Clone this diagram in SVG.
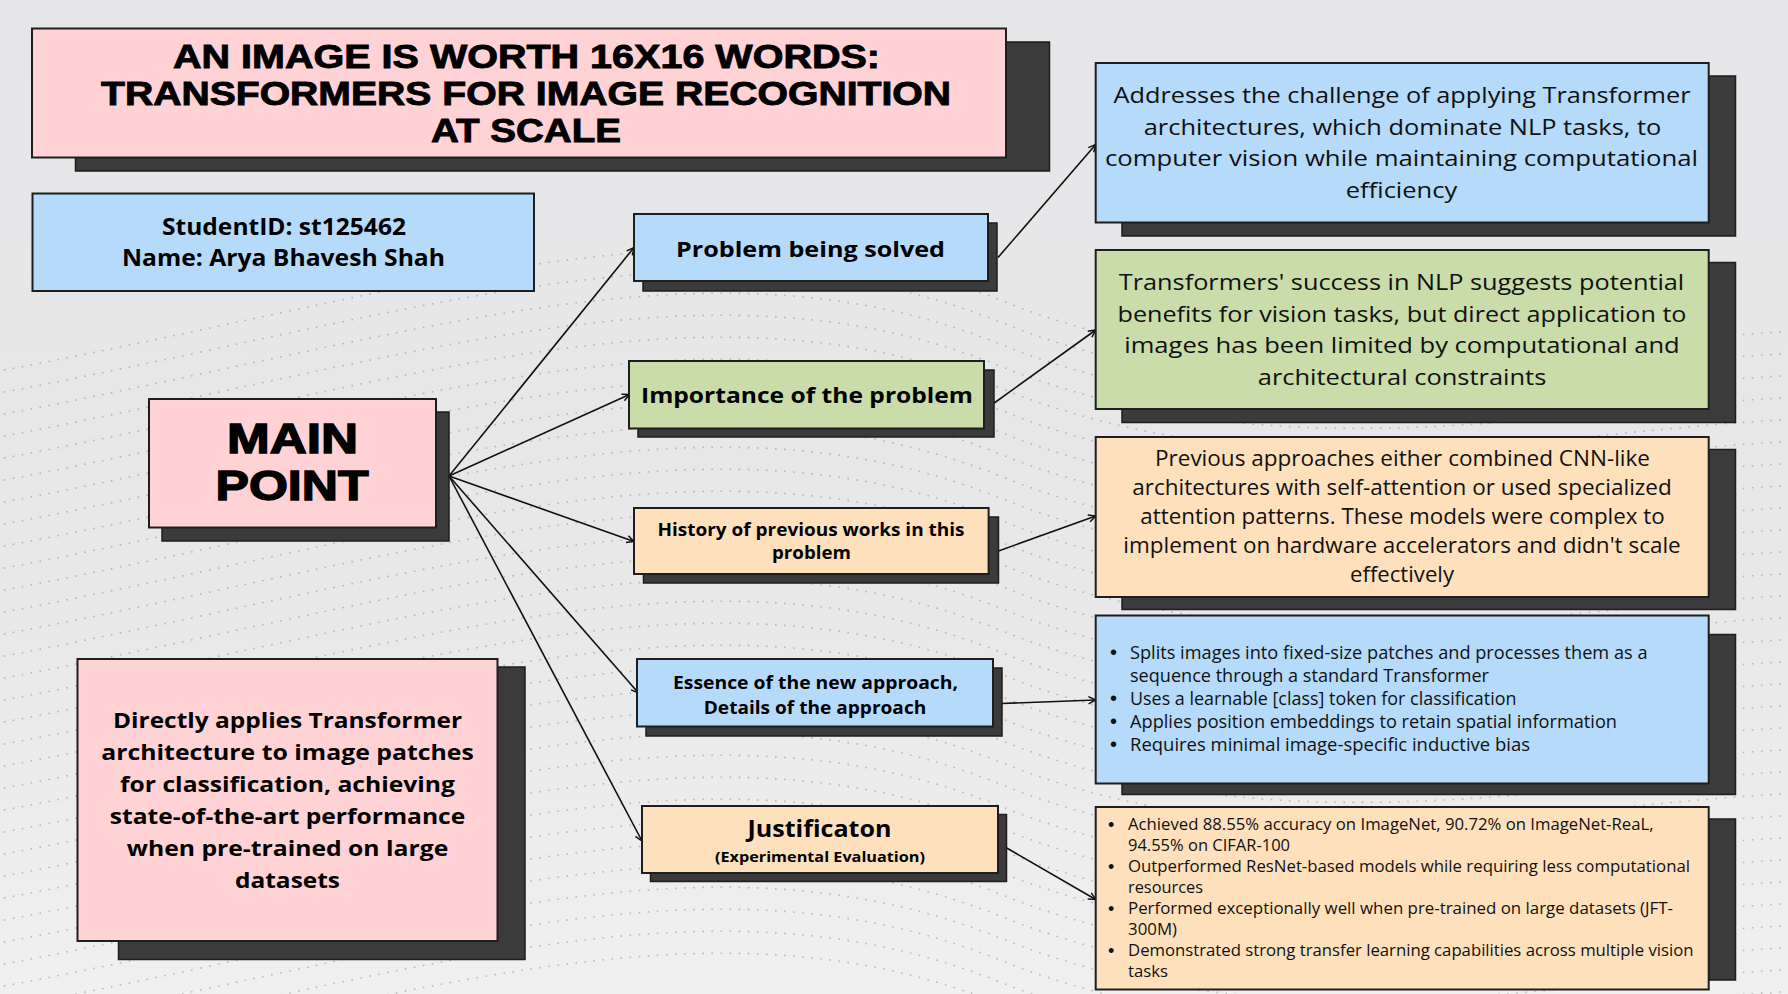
<svg xmlns="http://www.w3.org/2000/svg" width="1788" height="994" viewBox="0 0 1788 994">
<defs>
<linearGradient id="bg" x1="0" y1="0" x2="0" y2="1">
<stop offset="0" stop-color="#e6e6e8"/>
<stop offset="0.6" stop-color="#e8e8e9"/>
<stop offset="1" stop-color="#f0f0f0"/>
</linearGradient>
<marker id="arr" viewBox="0 0 10 10" refX="9" refY="5" markerWidth="9" markerHeight="9" markerUnits="userSpaceOnUse" orient="auto">
<path d="M1,1 L9,5 L1,9" fill="none" stroke="#111" stroke-width="1.6"/>
</marker>
<style>
.pink{fill:#ffd3d6}
.blue{fill:#b5dafa}
.green{fill:#c9dcaa}
.peach{fill:#fee0bc}
.box{stroke:#1e1e1e;stroke-width:2}
.shadow{fill:#3b3b3b;stroke:#1e1e1e;stroke-width:1.5}
.h{font-family:"Open Sans","Liberation Sans",sans-serif;font-weight:700;fill:#000;text-anchor:middle}
.t{font-family:"Liberation Sans","Open Sans",sans-serif;font-weight:700;fill:#000;stroke:#000;stroke-width:0.9;text-anchor:middle}
.tm{font-family:"Liberation Sans","Open Sans",sans-serif;font-weight:700;fill:#000;stroke:#000;stroke-width:1.4;text-anchor:middle}
.b{font-family:"Open Sans","Liberation Sans",sans-serif;font-weight:400;fill:#111;text-anchor:middle}
.l{font-family:"Open Sans","Liberation Sans",sans-serif;font-weight:400;fill:#111;text-anchor:start}
.dot{font-family:"Liberation Sans",sans-serif;fill:#111;text-anchor:start}
.conn{stroke:#111;stroke-width:1.6;fill:none;marker-end:url(#arr)}
.mesh{fill:none;stroke:#7a7a7a;stroke-opacity:0.45;stroke-width:1.6;stroke-dasharray:1.6 7.5}
</style>
</defs>
<rect x="0" y="0" width="1788" height="994" fill="url(#bg)"/>
<g id="mesh">
<path class="mesh" d="M-50,380 C400,300 700,180 1000,300 S1600,330 1850,330"/>
<path class="mesh" d="M-50,402 C400,322 700,202 1000,322 S1600,352 1850,352"/>
<path class="mesh" d="M-50,424 C400,344 700,224 1000,344 S1600,374 1850,374"/>
<path class="mesh" d="M-50,446 C400,366 700,246 1000,366 S1600,396 1850,396"/>
<path class="mesh" d="M-50,468 C400,388 700,268 1000,388 S1600,418 1850,418"/>
<path class="mesh" d="M-50,490 C400,410 700,290 1000,410 S1600,440 1850,440"/>
<path class="mesh" d="M-50,512 C400,432 700,312 1000,432 S1600,462 1850,462"/>
<path class="mesh" d="M-50,534 C400,454 700,334 1000,454 S1600,484 1850,484"/>
<path class="mesh" d="M-50,556 C400,476 700,356 1000,476 S1600,506 1850,506"/>
<path class="mesh" d="M-50,578 C400,498 700,378 1000,498 S1600,528 1850,528"/>
<path class="mesh" d="M-50,600 C400,520 700,400 1000,520 S1600,550 1850,550"/>
<path class="mesh" d="M-50,622 C400,542 700,422 1000,542 S1600,572 1850,572"/>
<path class="mesh" d="M-50,644 C400,564 700,444 1000,564 S1600,594 1850,594"/>
<path class="mesh" d="M-50,666 C400,586 700,466 1000,586 S1600,616 1850,616"/>
<path class="mesh" d="M-50,688 C400,608 700,488 1000,608 S1600,638 1850,638"/>
<path class="mesh" d="M-50,710 C400,630 700,510 1000,630 S1600,660 1850,660"/>
<path class="mesh" d="M-50,732 C400,652 700,532 1000,652 S1600,682 1850,682"/>
<path class="mesh" d="M-50,754 C400,674 700,554 1000,674 S1600,704 1850,704"/>
<path class="mesh" d="M-50,776 C400,696 700,576 1000,696 S1600,726 1850,726"/>
<path class="mesh" d="M-50,798 C400,718 700,598 1000,718 S1600,748 1850,748"/>
<path class="mesh" d="M-50,820 C400,740 700,620 1000,740 S1600,770 1850,770"/>
<path class="mesh" d="M-50,842 C400,762 700,642 1000,762 S1600,792 1850,792"/>
<path class="mesh" d="M-50,864 C400,784 700,664 1000,784 S1600,814 1850,814"/>
<path class="mesh" d="M-50,886 C400,806 700,686 1000,806 S1600,836 1850,836"/>
<path class="mesh" d="M-50,908 C400,828 700,708 1000,828 S1600,858 1850,858"/>
<path class="mesh" d="M-50,930 C400,850 700,730 1000,850 S1600,880 1850,880"/>
<path class="mesh" d="M-50,952 C400,872 700,752 1000,872 S1600,902 1850,902"/>
<path class="mesh" d="M-50,974 C400,894 700,774 1000,894 S1600,924 1850,924"/>
<path class="mesh" d="M-50,996 C400,916 700,796 1000,916 S1600,946 1850,946"/>
<path class="mesh" d="M-50,1018 C400,938 700,818 1000,938 S1600,968 1850,968"/>
<path class="mesh" d="M-50,1040 C400,960 700,840 1000,960 S1600,990 1850,990"/>
<path class="mesh" d="M-50,1062 C400,982 700,862 1000,982 S1600,1012 1850,1012"/>
<path class="mesh" d="M-50,1084 C400,1004 700,884 1000,1004 S1600,1034 1850,1034"/>
</g>

<g id="connectors">
<line class="conn" x1="449" y1="476" x2="634" y2="247.5"/>
<line class="conn" x1="449" y1="476" x2="629.5" y2="394.5"/>
<line class="conn" x1="449" y1="476" x2="634" y2="541.5"/>
<line class="conn" x1="449" y1="476" x2="638.5" y2="693"/>
<line class="conn" x1="449" y1="476" x2="642" y2="841"/>
<line class="conn" x1="998" y1="257.5" x2="1095.7" y2="144.5"/>
<line class="conn" x1="993.5" y1="403.5" x2="1095.7" y2="330"/>
<line class="conn" x1="998.5" y1="551" x2="1095.7" y2="516"/>
<line class="conn" x1="1001.5" y1="703.5" x2="1095.7" y2="700"/>
<line class="conn" x1="1005" y1="847" x2="1095.7" y2="899.5"/>
</g>

<g id="title">
<rect class="shadow" x="75.5" y="42" width="974" height="129"/>
<rect class="box pink" x="32" y="28.5" width="974" height="129"/>
<text class="t" x="526.5" y="68" font-size="33" textLength="707" lengthAdjust="spacingAndGlyphs">AN IMAGE IS WORTH 16X16 WORDS:</text>
<text class="t" x="526" y="105" font-size="33" textLength="850" lengthAdjust="spacingAndGlyphs">TRANSFORMERS FOR IMAGE RECOGNITION</text>
<text class="t" x="526" y="142" font-size="33" textLength="190" lengthAdjust="spacingAndGlyphs">AT SCALE</text>
</g>

<g id="student">
<rect class="box blue" x="32.5" y="193.5" width="501.5" height="97.5"/>
<text class="h" x="284" y="235" font-size="23" textLength="244" lengthAdjust="spacingAndGlyphs">StudentID: st125462</text>
<text class="h" x="283.5" y="266" font-size="23" textLength="323" lengthAdjust="spacingAndGlyphs">Name: Arya Bhavesh Shah</text>
</g>

<g id="main-point">
<rect class="shadow" x="162" y="412" width="287" height="129"/>
<rect class="box pink" x="149" y="399" width="287" height="128.5"/>
<text class="tm" x="292.5" y="453" font-size="42" textLength="131" lengthAdjust="spacingAndGlyphs">MAIN</text>
<text class="tm" x="292" y="500" font-size="42" textLength="153" lengthAdjust="spacingAndGlyphs">POINT</text>
</g>

<g id="summary">
<rect class="shadow" x="118.5" y="667" width="406.5" height="292.5"/>
<rect class="box pink" x="77.5" y="659" width="420" height="282"/>
<text class="h" x="287.5" y="727.5" font-size="22" textLength="349" lengthAdjust="spacingAndGlyphs">Directly applies Transformer</text>
<text class="h" x="287.5" y="759.5" font-size="22" textLength="372.5" lengthAdjust="spacingAndGlyphs">architecture to image patches</text>
<text class="h" x="287.5" y="791.5" font-size="22" textLength="335" lengthAdjust="spacingAndGlyphs">for classification, achieving</text>
<text class="h" x="287.5" y="823.5" font-size="22" textLength="355.5" lengthAdjust="spacingAndGlyphs">state-of-the-art performance</text>
<text class="h" x="287.5" y="855.5" font-size="22" textLength="321.5" lengthAdjust="spacingAndGlyphs">when pre-trained on large</text>
<text class="h" x="287.5" y="887.5" font-size="22" textLength="105" lengthAdjust="spacingAndGlyphs">datasets</text>
</g>

<g id="problem">
<rect class="shadow" x="643" y="223" width="354" height="68"/>
<rect class="box blue" x="634" y="214" width="354" height="67"/>
<text class="h" x="810.5" y="257" font-size="21.5" textLength="269" lengthAdjust="spacingAndGlyphs">Problem being solved</text>
</g>

<g id="importance">
<rect class="shadow" x="638" y="370" width="356" height="67"/>
<rect class="box green" x="629" y="361" width="355" height="67.5"/>
<text class="h" x="807" y="403" font-size="21.5" textLength="332" lengthAdjust="spacingAndGlyphs">Importance of the problem</text>
</g>

<g id="history">
<rect class="shadow" x="643.5" y="517" width="355" height="66"/>
<rect class="box peach" x="634" y="508" width="354.6" height="66"/>
<text class="h" x="811" y="535.5" font-size="17.5" textLength="307" lengthAdjust="spacingAndGlyphs">History of previous works in this</text>
<text class="h" x="811.5" y="559" font-size="17.5" textLength="79" lengthAdjust="spacingAndGlyphs">problem</text>
</g>

<g id="essence">
<rect class="shadow" x="646" y="668" width="356" height="68"/>
<rect class="box blue" x="637" y="659" width="356" height="67.5"/>
<text class="h" x="815.5" y="688.5" font-size="17.5" textLength="285" lengthAdjust="spacingAndGlyphs">Essence of the new approach,</text>
<text class="h" x="815" y="713.5" font-size="17.5" textLength="222.5" lengthAdjust="spacingAndGlyphs">Details of the approach</text>
</g>

<g id="justification">
<rect class="shadow" x="650.5" y="814.5" width="356" height="67"/>
<rect class="box peach" x="642" y="806" width="356" height="67"/>
<text class="h" x="819.5" y="837" font-size="24" textLength="144" lengthAdjust="spacingAndGlyphs">Justificaton</text>
<text class="h" x="820" y="861.5" font-size="15" textLength="210" lengthAdjust="spacingAndGlyphs">(Experimental Evaluation)</text>
</g>

<g id="problem-detail">
<rect class="shadow" x="1122" y="76" width="613.5" height="160"/>
<rect class="box blue" x="1095.7" y="63" width="613" height="159.5"/>
<text class="b" x="1402" y="103" font-size="22" textLength="577" lengthAdjust="spacingAndGlyphs">Addresses the challenge of applying Transformer</text>
<text class="b" x="1402.5" y="134.5" font-size="22" textLength="517.5" lengthAdjust="spacingAndGlyphs">architectures, which dominate NLP tasks, to</text>
<text class="b" x="1401.5" y="166" font-size="22" textLength="593" lengthAdjust="spacingAndGlyphs">computer vision while maintaining computational</text>
<text class="b" x="1401.5" y="197.5" font-size="22" textLength="111.5" lengthAdjust="spacingAndGlyphs">efficiency</text>
</g>

<g id="importance-detail">
<rect class="shadow" x="1122" y="262.5" width="613.5" height="160"/>
<rect class="box green" x="1095.7" y="250" width="613" height="159"/>
<text class="b" x="1401.5" y="290" font-size="22" textLength="565.5" lengthAdjust="spacingAndGlyphs">Transformers' success in NLP suggests potential</text>
<text class="b" x="1402" y="321.5" font-size="22" textLength="569" lengthAdjust="spacingAndGlyphs">benefits for vision tasks, but direct application to</text>
<text class="b" x="1402" y="353" font-size="22" textLength="555.5" lengthAdjust="spacingAndGlyphs">images has been limited by computational and</text>
<text class="b" x="1402" y="384.5" font-size="22" textLength="288.5" lengthAdjust="spacingAndGlyphs">architectural constraints</text>
</g>

<g id="history-detail">
<rect class="shadow" x="1122" y="449.5" width="613.5" height="160"/>
<rect class="box peach" x="1095.7" y="437" width="613" height="160"/>
<text class="b" x="1402.5" y="466" font-size="21" textLength="495" lengthAdjust="spacingAndGlyphs">Previous approaches either combined CNN-like</text>
<text class="b" x="1402" y="495" font-size="21" textLength="539.5" lengthAdjust="spacingAndGlyphs">architectures with self-attention or used specialized</text>
<text class="b" x="1402.5" y="524" font-size="21" textLength="524.5" lengthAdjust="spacingAndGlyphs">attention patterns. These models were complex to</text>
<text class="b" x="1402" y="553" font-size="21" textLength="557.5" lengthAdjust="spacingAndGlyphs">implement on hardware accelerators and didn't scale</text>
<text class="b" x="1402" y="582" font-size="21" textLength="104" lengthAdjust="spacingAndGlyphs">effectively</text>
</g>

<g id="essence-detail">
<rect class="shadow" x="1122" y="634.5" width="613.5" height="160"/>
<rect class="box blue" x="1095.7" y="615.5" width="613" height="168"/>
<text class="dot" x="1110" y="659" font-size="20">•</text>
<text class="l" x="1130" y="658.5" font-size="17.5" textLength="517.5" lengthAdjust="spacingAndGlyphs">Splits images into fixed-size patches and processes them as a</text>
<text class="l" x="1130" y="681.5" font-size="17.5" textLength="359" lengthAdjust="spacingAndGlyphs">sequence through a standard Transformer</text>
<text class="dot" x="1110" y="705" font-size="20">•</text>
<text class="l" x="1130" y="704.5" font-size="17.5" textLength="386.5" lengthAdjust="spacingAndGlyphs">Uses a learnable [class] token for classification</text>
<text class="dot" x="1110" y="728" font-size="20">•</text>
<text class="l" x="1130" y="727.5" font-size="17.5" textLength="487" lengthAdjust="spacingAndGlyphs">Applies position embeddings to retain spatial information</text>
<text class="dot" x="1110" y="751" font-size="20">•</text>
<text class="l" x="1130" y="750.5" font-size="17.5" textLength="400" lengthAdjust="spacingAndGlyphs">Requires minimal image-specific inductive bias</text>
</g>

<g id="justification-detail">
<rect class="shadow" x="1122" y="819" width="613.5" height="161"/>
<rect class="box peach" x="1095.7" y="807" width="613" height="182.5"/>
<text class="dot" x="1108" y="830.5" font-size="18">•</text>
<text class="l" x="1128" y="830" font-size="16" textLength="525.5" lengthAdjust="spacingAndGlyphs">Achieved 88.55% accuracy on ImageNet, 90.72% on ImageNet-ReaL,</text>
<text class="l" x="1128" y="851" font-size="16" textLength="162" lengthAdjust="spacingAndGlyphs">94.55% on CIFAR-100</text>
<text class="dot" x="1108" y="872.5" font-size="18">•</text>
<text class="l" x="1128" y="872" font-size="16" textLength="562" lengthAdjust="spacingAndGlyphs">Outperformed ResNet-based models while requiring less computational</text>
<text class="l" x="1128" y="893" font-size="16" textLength="75" lengthAdjust="spacingAndGlyphs">resources</text>
<text class="dot" x="1108" y="914.5" font-size="18">•</text>
<text class="l" x="1128" y="914" font-size="16" textLength="545" lengthAdjust="spacingAndGlyphs">Performed exceptionally well when pre-trained on large datasets (JFT-</text>
<text class="l" x="1128" y="935" font-size="16" textLength="49" lengthAdjust="spacingAndGlyphs">300M)</text>
<text class="dot" x="1108" y="956.5" font-size="18">•</text>
<text class="l" x="1128" y="956" font-size="16" textLength="565.5" lengthAdjust="spacingAndGlyphs">Demonstrated strong transfer learning capabilities across multiple vision</text>
<text class="l" x="1128" y="977" font-size="16" textLength="40" lengthAdjust="spacingAndGlyphs">tasks</text>
</g>
</svg>
